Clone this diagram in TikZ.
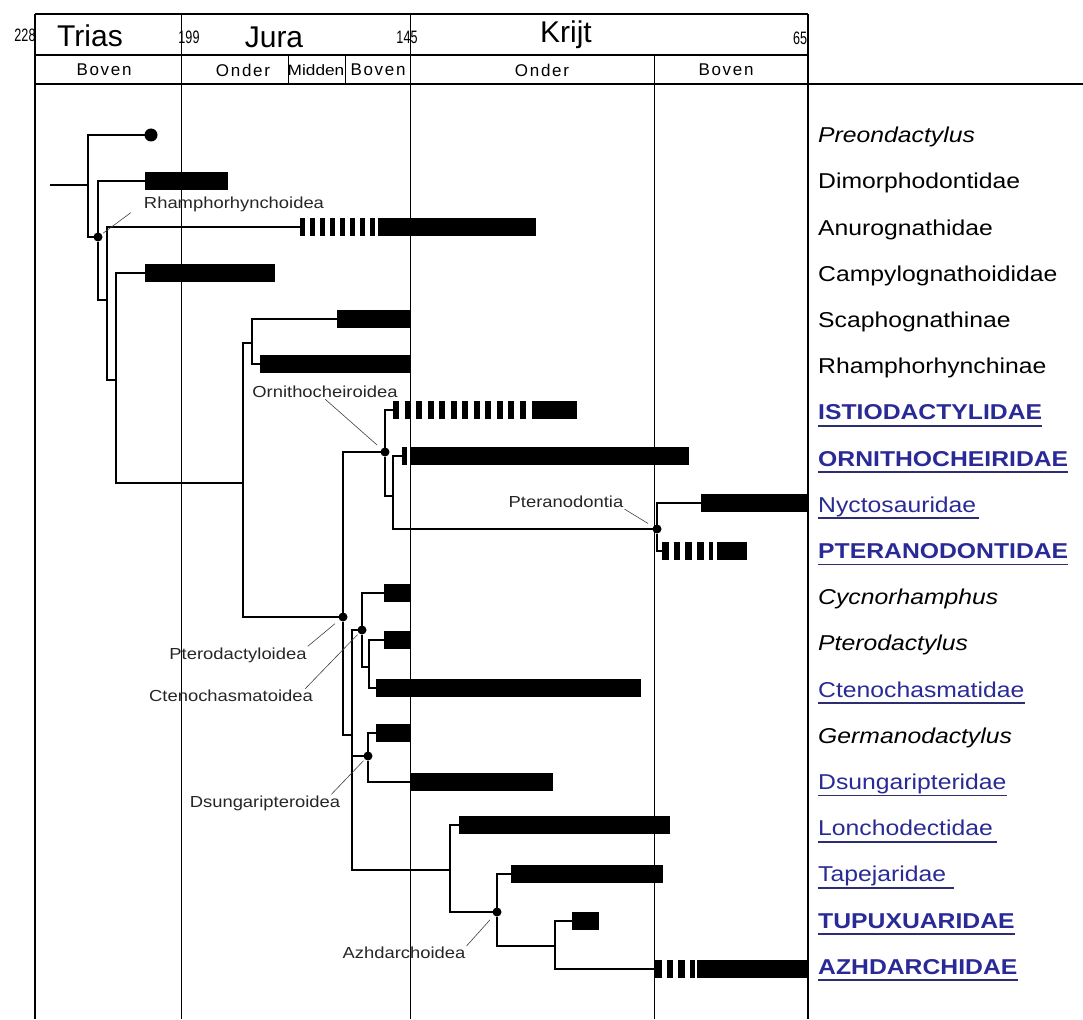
\documentclass[tikz,border=0pt]{standalone}
\usepackage{fontspec}
\setmainfont{Liberation Sans}
\newfontfamily\taxfont[FakeStretch=1.15]{Liberation Sans}
\newfontfamily\agefont[FakeStretch=0.7]{Liberation Sans}
\newfontfamily\stagefont[LetterSpace=10]{Liberation Sans}
\definecolor{taxblue}{RGB}{42,42,150}
\definecolor{ulblue}{RGB}{45,45,115}
\newcommand{\rangebar}[4]{\node[rangebar, minimum width={(#3-#2)*1pt}] (#1) at (#2,#4) {};}

\begin{document}
\begin{tikzpicture}[x=1pt,y=-1pt,
  frame/.style={line width=1.8pt},
  bound/.style={line width=0.8pt},
  branch/.style={line width=1.7pt},
  lineage/.style={line width=2.8pt},
  ghost/.style={line width=18pt, dash pattern=on 5pt off 5pt},
  rangebar/.style={rectangle, fill=black, inner sep=0pt, outer sep=0pt, minimum height=18pt, anchor=west},
  split/.style={circle, fill=black, inner sep=0pt, outer sep=0pt, minimum size=9pt},
  taxon/.style={anchor=base west, inner sep=0pt, font=\taxfont\fontsize{21.5}{24}\selectfont},
  itaxon/.style={taxon, font=\taxfont\fontsize{21.5}{24}\selectfont\itshape},
  utaxon/.style={taxon, text=taxblue},
  btaxon/.style={taxon, text=taxblue, font=\taxfont\fontsize{21.5}{24}\selectfont\bfseries},
  uline/.style={line width=1.8pt, ulblue},
  clade/.style={inner sep=1pt, text=black!85, font=\taxfont\fontsize{16}{18}\selectfont},
  leader/.style={line width=0.6pt, black!75},
  era/.style={font=\fontsize{30}{32}\selectfont},
  age/.style={inner sep=0pt, font=\agefont\fontsize{18}{20}\selectfont},
  stage/.style={font=\stagefont\fontsize{17}{19}\selectfont}]

\useasboundingbox (0,0) rectangle (1083,1019);

\draw[frame] (35,14) -- (808,14);
\draw[frame] (35,55) -- (808,55);
\draw[frame] (35,84) -- (1083,84);
\draw[line width=2.4pt] (35,14) -- (35,1019);
\draw[line width=2.4pt] (808,14) -- (808,1019);
\draw[bound] (181,14) -- (181,1019);
\draw[bound] (410,14) -- (410,1019);
\draw[bound] (654,55) -- (654,1019);
\draw[bound] (288,55) -- (288,84);
\draw[bound] (345,55) -- (345,84);

\node[age] (a228) at (25,35) {228};
\node[age] (a199) at (189,37) {199};
\node[age] (a145) at (407,37) {145};
\node[age] (a65) at (800,38) {65};
\node[era] (trias) at (90,36) {Trias};
\node[era] (jura) at (274,37) {Jura};
\node[era] (krijt) at (566,35) {Krijt};

\node[stage] (s1) at (104,70) {Boven};
\node[stage] (s2) at (243,70) {Onder};
\node[stage, font=\taxfont\fontsize{15}{17}\selectfont] (s3) at (316,70) {Midden};
\node[stage] (s4) at (378,70) {Boven};
\node[stage] (s5) at (542,70) {Onder};
\node[stage] (s6) at (726,70) {Boven};

\node[split, minimum size=13pt] (preon) at (151,135) {};
\rangebar{dimorph}{145}{228}{181}
\rangebar{anuro}{378}{536}{227}
\rangebar{campy}{145}{275}{273}
\rangebar{scapho}{337}{410}{319}
\rangebar{rhampho}{260}{410}{364}
\rangebar{istio}{532}{577}{410}
\rangebar{ornitho}{410}{689}{456}
\rangebar{nycto}{701}{808}{503}
\rangebar{pterano}{717}{747}{551}
\rangebar{cycno}{384}{410}{593}
\rangebar{ptero}{384}{410}{640}
\rangebar{cteno}{376}{641}{688}
\rangebar{germano}{376}{410}{733}
\rangebar{dsung}{410}{553}{782}
\rangebar{loncho}{459}{670}{825}
\rangebar{tapej}{511}{663}{874}
\rangebar{tupux}{572}{599}{921}
\rangebar{azhd}{697}{808}{969}

\coordinate (stub) at (50,185);
\coordinate (root) at (88,185);
\node[split] (rhsplit) at (98,237) {};
\coordinate (c1) at (107,300);
\coordinate (c2) at (116,380);
\coordinate (c3) at (243,483);
\coordinate (c4) at (252,343);
\node[split] (pdsplit) at (343,617) {};
\node[split] (ornsplit) at (385,452) {};
\coordinate (c9) at (393,496);
\node[split] (ptsplit) at (657,529) {};
\coordinate (c5) at (352,735);
\node[split] (ctsplit) at (362,630) {};
\coordinate (c7) at (369,667);
\node[split] (dssplit) at (368,756) {};
\coordinate (c6) at (450,870);
\node[split] (azsplit) at (497,912) {};
\coordinate (c8) at (555,946);

\coordinate (anuroS) at (145,227);
\coordinate (anuroG) at (300,227);
\coordinate (anuroE) at (375,227);
\coordinate (istioS) at (393,410);
\coordinate (istioE) at (526,410);
\coordinate (ornithoS) at (402,456);
\coordinate (ornithoE) at (407,456);
\coordinate (pteranoS) at (662,551);
\coordinate (pteranoE) at (713,551);
\coordinate (azhdS) at (575,969);
\coordinate (azhdG) at (655,969);
\coordinate (azhdE) at (695,969);

\draw[branch] (stub) -- (root);
\draw[branch] (preon) -| (root) |- (rhsplit);
\draw[branch] (dimorph) -| (rhsplit) |- (c1);
\draw[branch] (anuroS) -| (c1) |- (c2);
\draw[branch] (campy) -| (c2) |- (c3);
\draw[branch] (c4) -| (c3) |- (pdsplit);
\draw[branch] (scapho) -| (c4) |- (rhampho);
\draw[branch] (ornsplit) -| (pdsplit) |- (c5);
\draw[branch] (istioS) -| (ornsplit) |- (c9);
\draw[branch] (ornithoS) -| (c9) |- (ptsplit);
\draw[branch] (nycto) -| (ptsplit) |- (pteranoS);
\draw[branch] (ctsplit) -| (c5) |- (c6);
\draw[branch] (c5 |- dssplit) -- (dssplit);
\draw[branch] (cycno) -| (ctsplit) |- (c7);
\draw[branch] (ptero) -| (c7) |- (cteno);
\draw[branch] (germano) -| (dssplit) |- (dsung);
\draw[branch] (loncho) -| (c6) |- (azsplit);
\draw[branch] (tapej) -| (azsplit) |- (c8);
\draw[branch] (tupux) -| (c8) |- (azhdS);

\draw[lineage] (anuroS) -- (anuroG);
\draw[lineage] (azhdS) -- (azhdG);
\draw[ghost] (anuroG) -- (anuroE);
\draw[ghost, dash pattern=on 6pt off 5.5pt] (istioS) -- (istioE);
\draw[ghost] (ornithoS) -- (ornithoE);
\draw[ghost, dash pattern=on 6.5pt off 5.2pt] (pteranoS) -- (pteranoE);
\draw[ghost, dash pattern=on 6.5pt off 5pt] (azhdG) -- (azhdE);

\node[clade] (lRh) at (234,204) {Rhamphorhynchoidea};
\node[clade] (lOr) at (325,392) {Ornithocheiroidea};
\node[clade] (lPt) at (566,502) {Pteranodontia};
\node[clade] (lPd) at (238,655) {Pterodactyloidea};
\node[clade] (lCt) at (231,696) {Ctenochasmatoidea};
\node[clade] (lDs) at (265,803) {Dsungaripteroidea};
\node[clade] (lAz) at (404,953) {Azhdarchoidea};
\draw[leader, shorten >=2pt] ([xshift=-12pt]lRh.south west) -- (rhsplit);
\draw[leader, shorten >=6pt] (lOr.south) -- (ornsplit);
\draw[leader, shorten >=6pt] (lPt.south east) -- (ptsplit);
\draw[leader, shorten >=6pt] (lPd.north east) -- (pdsplit);
\draw[leader, shorten >=2pt] ([xshift=-9pt]lCt.north east) -- (ctsplit);
\draw[leader, shorten >=2pt] ([xshift=-10pt]lDs.north east) -- (dssplit);
\draw[leader, shorten >=6pt] (lAz.north east) -- (azsplit);

\foreach \txt/\sty [count=\i] in {Preondactylus/itaxon, Dimorphodontidae/taxon,
    Anurognathidae/taxon, Campylognathoididae/taxon, Scaphognathinae/taxon,
    Rhamphorhynchinae/taxon, ISTIODACTYLIDAE/btaxon, ORNITHOCHEIRIDAE/btaxon,
    Nyctosauridae/utaxon, PTERANODONTIDAE/btaxon, Cycnorhamphus/itaxon,
    Pterodactylus/itaxon, Ctenochasmatidae/utaxon, Germanodactylus/itaxon,
    Dsungaripteridae/utaxon, Lonchodectidae/utaxon, Tapejaridae/utaxon,
    TUPUXUARIDAE/btaxon, AZHDARCHIDAE/btaxon}
  \node[\sty] (t\i) at (818,{88.8+46.2*\i+7.7}) {\txt};
\foreach \n/\ext in {7/0,8/0,9/3,10/0,13/0,15/0,16/4,17/8,18/0,19/0}
  \draw[uline] ([yshift=-6pt]t\n.base west) -- ([xshift=\ext pt,yshift=-6pt]t\n.base east);
\end{tikzpicture}
\end{document}
